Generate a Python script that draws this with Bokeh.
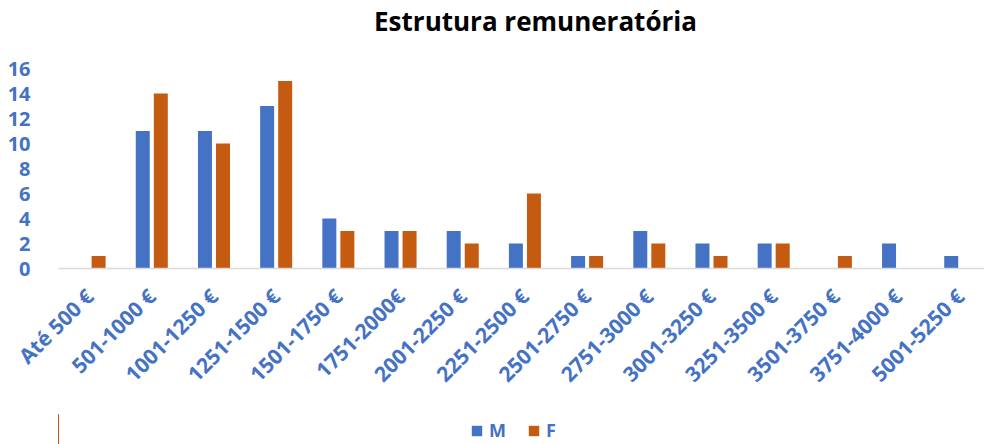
from bokeh.plotting import figure
from bokeh.layouts import column
from bokeh.models import ColumnDataSource, Legend, LegendItem, Range1d, FixedTicker
from bokeh.transform import dodge
from bokeh.embed import file_html
from bokeh.resources import INLINE
import math

title_text = "Estrutura remuneratória"
categories = ["Até 500 €", "501-1000 €", "1001-1250 €", "1251-1500 €", "1501-1750 €",
              "1751-2000€", "2001-2250 €", "2251-2500 €", "2501-2750 €", "2751-3000 €",
              "3001-3250 €", "3251-3500 €", "3501-3750 €", "3751-4000 €", "5001-5250 €"]
m_values = [0, 11, 11, 13, 4, 3, 3, 2, 1, 3, 2, 2, 0, 2, 1]
f_values = [1, 14, 10, 15, 3, 3, 2, 6, 1, 2, 1, 2, 1, 0, 0]
y_ticks = [0, 2, 4, 6, 8, 10, 12, 14, 16]
series_names = ["M", "F"]

BLUE = "#4472C4"
ORANGE = "#C55A11"
FONT = "Open Sans"

# title strip
top_fig = figure(frame_width=954, frame_height=1, x_range=Range1d(0, 1), y_range=Range1d(0, 1),
                 output_backend="svg", toolbar_location=None, title=title_text,
                 x_axis_type=None, y_axis_type=None,
                 min_border_left=30, min_border_right=0, min_border_top=0, min_border_bottom=0)
top_fig.outline_line_color = None
top_fig.xgrid.grid_line_color = None
top_fig.ygrid.grid_line_color = None
top_fig.title.align = "center"
top_fig.title.text_font = FONT
top_fig.title.text_font_size = "26px"
top_fig.title.text_font_style = "bold"
top_fig.title.text_color = "black"
top_fig.title.offset = 0
top_fig.title.standoff = 0

idx = list(range(len(categories)))
src = ColumnDataSource(dict(x=idx, cat=categories, m=m_values, f=f_values))

p = figure(frame_width=926, frame_height=200,
           x_range=Range1d(-0.5, 14.39), y_range=Range1d(0, 16),
           output_backend="svg", toolbar_location=None,
           min_border_left=58, min_border_right=0, min_border_top=29, min_border_bottom=146)
p.outline_line_color = None
p.xgrid.grid_line_color = None
p.ygrid.grid_line_color = None

p.vbar(x=dodge("x", -0.145), top="m", width=0.225, source=src,
       fill_color=BLUE, line_color=None)
p.vbar(x=dodge("x", 0.145), top="f", width=0.225, source=src,
       fill_color=ORANGE, line_color=None)

p.yaxis.ticker = FixedTicker(ticks=y_ticks)
p.yaxis.axis_line_color = None
p.yaxis.major_tick_line_color = None
p.yaxis.minor_tick_line_color = None
p.yaxis.major_label_text_color = BLUE
p.yaxis.major_label_text_font = FONT
p.yaxis.major_label_text_font_style = "bold"
p.yaxis.major_label_text_font_size = "20px"
p.yaxis.major_label_standoff = 22

p.xaxis.ticker = FixedTicker(ticks=idx)
p.xaxis.major_label_overrides = {i: c for i, c in zip(idx, categories)}
p.xaxis.axis_line_color = "#D9D9D9"
p.xaxis.axis_line_width = 1.5
p.xaxis.major_tick_line_color = None
p.xaxis.minor_tick_line_color = None
p.xaxis.major_label_orientation = math.pi / 4
p.xaxis.major_label_text_color = BLUE
p.xaxis.major_label_text_font = FONT
p.xaxis.major_label_text_font_style = "bold"
p.xaxis.major_label_text_font_size = "21px"
p.xaxis.major_label_standoff = 18

# legend strip below the chart (its bars lie outside its visible range)
leg_fig = figure(frame_width=984, frame_height=30, x_range=Range1d(100, 101), y_range=Range1d(0, 1),
                 output_backend="svg", toolbar_location=None,
                 x_axis_type=None, y_axis_type=None,
                 min_border_left=0, min_border_right=0, min_border_top=0, min_border_bottom=0)
leg_fig.outline_line_color = None
leg_fig.xgrid.grid_line_color = None
leg_fig.ygrid.grid_line_color = None
lm = leg_fig.vbar(x="x", top="m", width=0.2, source=src, fill_color=BLUE, line_color=None)
lf = leg_fig.vbar(x="x", top="f", width=0.2, source=src, fill_color=ORANGE, line_color=None)

legend = Legend(items=[LegendItem(label=series_names[0], renderers=[lm]),
                       LegendItem(label=series_names[1], renderers=[lf])],
                orientation="horizontal", location=(470, 2))
legend.label_text_color = BLUE
legend.label_text_font = FONT
legend.label_text_font_style = "bold"
legend.label_text_font_size = "18px"
legend.glyph_width = 13
legend.glyph_height = 13
legend.spacing = 18
legend.label_standoff = 6
legend.border_line_color = None
legend.background_fill_alpha = 0
legend.margin = 0
legend.padding = 2
leg_fig.add_layout(legend)

layout = column(top_fig, p, leg_fig, spacing=0)
open("out.html", "w").write(file_html(layout, INLINE))
